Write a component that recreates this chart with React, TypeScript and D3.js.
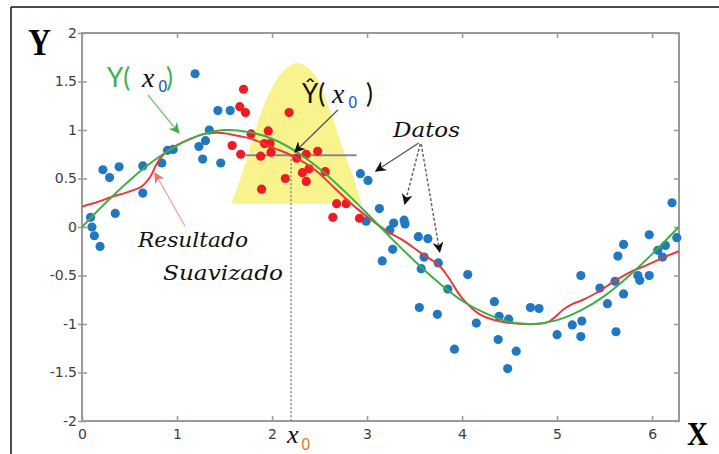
import React, { useEffect, useRef } from "react";
import * as d3 from "d3";

// Datos (puntos azules)
const datosX = [
  1.19, 1.43, 1.56, 1.34, 1.3, 1.23, 1.27, 1.46, 0.96, 0.9, 0.84, 0.64, 0.64, 0.39, 0.22, 0.29, 0.35, 0.09, 0.105, 0.13, 0.19,
  2.93, 3.01, 3.13, 2.99,
  3.28, 3.39, 3.4, 3.24, 3.27, 3.16, 3.54, 3.64, 3.6, 3.57, 3.75, 3.85, 4.06, 3.55, 3.74, 3.92, 4.15, 4.34, 4.39, 4.49, 4.38, 4.57, 4.48,
  4.72, 4.81, 5.0, 5.16, 5.25, 5.26, 5.25, 5.45, 5.53, 5.61, 5.64, 5.7, 5.7, 5.62, 5.85, 5.87, 5.97, 5.97, 6.06, 6.14, 6.11, 6.26, 6.21,
];
const datosY = [
  1.58, 1.2, 1.2, 1.0, 0.89, 0.83, 0.7, 0.66, 0.8, 0.79, 0.66, 0.63, 0.35, 0.62, 0.59, 0.51, 0.14, 0.1, 0.0, -0.09, -0.2,
  0.55, 0.48, 0.19, 0.06,
  0.04, 0.07, 0.03, -0.03, -0.23, -0.35, -0.1, -0.12, -0.31, -0.43, -0.37, -0.64, -0.49, -0.83, -0.9, -1.26, -0.99, -0.77, -0.92, -0.95, -1.16, -1.28, -1.46,
  -0.83, -0.84, -1.11, -1.01, -0.5, -0.97, -1.13, -0.63, -0.79, -0.56, -0.3, -0.18, -0.69, -1.08, -0.5, -0.55, -0.08, -0.5, -0.24, -0.19, -0.31, -0.11, 0.25,
];

// puntos dentro de la ventana (rojos)
const ventanaX = [
  1.7, 1.66, 1.72, 2.18, 1.58, 1.67, 1.78, 1.96, 1.92, 1.98, 1.99, 1.88, 2.26, 2.36, 2.48, 2.39, 2.32, 2.36, 2.56, 2.14, 1.89, 2.68, 2.78, 2.64, 2.92,
];
const ventanaY = [
  1.42, 1.24, 1.18, 1.18, 0.84, 0.75, 0.96, 0.99, 0.86, 0.86, 0.77, 0.73, 0.71, 0.75, 0.78, 0.6, 0.56, 0.47, 0.57, 0.5, 0.39, 0.24, 0.24, 0.1, 0.09,
];

// curva verdadera Y(x)
const verdaderaX = [0, 0.25, 0.5, 0.75, 1.0, 1.25, 1.5, 1.75, 2.0, 2.25, 2.5, 2.75, 3.0, 3.25, 3.5, 3.75, 4.0, 4.25, 4.5, 4.75, 5.0, 5.25, 5.5, 5.75, 6.0, 6.28];
const verdaderaY = [0, 0.25, 0.48, 0.68, 0.84, 0.95, 1.0, 0.98, 0.91, 0.78, 0.6, 0.38, 0.14, -0.11, -0.35, -0.57, -0.76, -0.89, -0.98, -1.0, -0.96, -0.86, -0.71, -0.51, -0.28, 0.0];

// resultado suavizado
const suaveX = [0, 0.17, 0.31, 0.48, 0.63, 0.72, 0.78, 0.85, 0.94, 1.12, 1.29, 1.47, 1.64, 1.78, 2.03, 2.2, 2.45, 2.66, 2.87, 3.05, 3.22, 3.4, 3.57, 3.75, 3.85, 3.99, 4.17, 4.34, 4.52, 4.69, 4.9, 5.08, 5.17, 5.25, 5.43, 5.6, 5.78, 5.95, 6.13, 6.28];
const suaveY = [0.21, 0.26, 0.31, 0.36, 0.42, 0.52, 0.64, 0.74, 0.81, 0.9, 0.96, 0.97, 0.94, 0.91, 0.81, 0.74, 0.59, 0.4, 0.21, 0.07, -0.05, -0.15, -0.27, -0.39, -0.51, -0.72, -0.89, -0.96, -0.99, -1.0, -0.98, -0.84, -0.79, -0.76, -0.67, -0.56, -0.46, -0.39, -0.31, -0.25];

// forma del kernel (amarillo)
const kernelX = [1.574, 1.714, 1.854, 1.995, 2.135, 2.27, 2.45, 2.59, 2.73, 2.87, 2.94];
const kernelY = [0.24, 0.64, 1.09, 1.43, 1.62, 1.69, 1.57, 1.26, 0.85, 0.47, 0.24];
const kernelBase = 0.24;

const x0 = 2.2;
const yHat = 0.74;

const yTicks = [-2, -1.5, -1, -0.5, 0, 0.5, 1, 1.5, 2];
const xTicks = [0, 1, 2, 3, 4, 5, 6];

const App = () => {
  const svgRef = useRef(null);

  useEffect(() => {
    const svg = d3.select(svgRef.current);
    svg.selectAll("*").remove();

    const x = d3.scaleLinear().domain([0, 2 * Math.PI]).range([82, 679]);
    const y = d3.scaleLinear().domain([-2, 2]).range([421, 33]);

    const defs = svg.append("defs");
    const marker = (id, color) =>
      defs
        .append("marker")
        .attr("id", id)
        .attr("viewBox", "0 0 10 10")
        .attr("refX", 9)
        .attr("refY", 5)
        .attr("markerUnits", "userSpaceOnUse")
        .attr("markerWidth", 11)
        .attr("markerHeight", 11)
        .attr("orient", "auto")
        .append("path")
        .attr("d", "M0,0 L10,5 L0,10 L3,5 z")
        .attr("fill", color);
    marker("flechaVerde", "#3fae49");
    marker("flechaNegra", "#111");
    marker("flechaRoja", "#f07070");

    // borde exterior
    svg.append("line").attr("x1", 11).attr("x2", 719).attr("y1", 7).attr("y2", 7).attr("stroke", "#111").attr("stroke-width", 1.5);
    svg.append("line").attr("x1", 11).attr("x2", 11).attr("y1", 7).attr("y2", 454).attr("stroke", "#111").attr("stroke-width", 1.5);

    // kernel
    const area = d3
      .area()
      .x((d) => x(d[0]))
      .y0(y(kernelBase))
      .y1((d) => y(d[1]))
      .curve(d3.curveCatmullRom);
    svg
      .append("path")
      .datum(kernelX.map((k, i) => [k, kernelY[i]]))
      .attr("fill", "#f8f38c")
      .attr("d", area);

    // marco
    svg
      .append("rect")
      .attr("x", x(0))
      .attr("y", y(2))
      .attr("width", x(2 * Math.PI) - x(0))
      .attr("height", y(-2) - y(2))
      .attr("fill", "none")
      .attr("stroke", "#9a9a9a")
      .attr("stroke-width", 2);

    const styleAxis = (g) => {
      g.select(".domain").remove();
      g.selectAll("line").attr("stroke", "#9a9a9a").attr("stroke-width", 1.5);
      g.selectAll("text").attr("font-family", "'DejaVu Sans', sans-serif").attr("font-size", 14).attr("fill", "#3c3c3c");
    };

    svg
      .append("g")
      .attr("transform", `translate(${x(0)},0)`)
      .call(d3.axisLeft(y).tickValues(yTicks).tickSizeInner(4).tickSizeOuter(0).tickPadding(1).tickFormat((d) => String(d)))
      .call(styleAxis);
    svg
      .append("g")
      .attr("transform", `translate(${x(0)},0)`)
      .call(d3.axisRight(y).tickValues(yTicks).tickSize(5).tickFormat(() => ""))
      .call(styleAxis);
    svg
      .append("g")
      .attr("transform", `translate(${x(2 * Math.PI)},0)`)
      .call(d3.axisLeft(y).tickValues(yTicks).tickSize(5).tickFormat(() => ""))
      .call(styleAxis);
    svg
      .append("g")
      .attr("transform", `translate(0,${y(2)})`)
      .call(d3.axisBottom(x).tickValues(xTicks).tickSize(5).tickFormat(() => ""))
      .call(styleAxis);
    svg
      .append("g")
      .attr("transform", `translate(0,${y(-2)})`)
      .call(d3.axisBottom(x).tickValues(xTicks).tickSizeInner(-5).tickSizeOuter(0).tickPadding(8).tickFormat((d) => String(d)))
      .call(styleAxis);

    // guias de x0
    svg
      .append("line")
      .attr("x1", x(x0))
      .attr("x2", x(x0))
      .attr("y1", y(yHat))
      .attr("y2", y(-2))
      .attr("stroke", "#777")
      .attr("stroke-width", 1.3)
      .attr("stroke-dasharray", "2,2");
    svg
      .append("line")
      .attr("x1", x(1.72))
      .attr("x2", x(2.89))
      .attr("y1", y(yHat))
      .attr("y2", y(yHat))
      .attr("stroke", "#888")
      .attr("stroke-width", 2);

    // puntos
    svg
      .append("g")
      .selectAll("circle")
      .data(datosX.map((d, i) => [d, datosY[i]]))
      .join("circle")
      .attr("cx", (d) => x(d[0]))
      .attr("cy", (d) => y(d[1]))
      .attr("r", 4.6)
      .attr("fill", "#1f78c1");
    svg
      .append("g")
      .selectAll("circle")
      .data(ventanaX.map((d, i) => [d, ventanaY[i]]))
      .join("circle")
      .attr("cx", (d) => x(d[0]))
      .attr("cy", (d) => y(d[1]))
      .attr("r", 4.6)
      .attr("fill", "#ec1c24");

    // curvas
    const line = d3
      .line()
      .x((d) => x(d[0]))
      .y((d) => y(d[1]))
      .curve(d3.curveCatmullRom);
    svg
      .append("path")
      .datum(suaveX.map((d, i) => [d, suaveY[i]]))
      .attr("fill", "none")
      .attr("stroke", "#e8393e")
      .attr("stroke-width", 2)
      .attr("d", line);
    svg
      .append("path")
      .datum(verdaderaX.map((d, i) => [d, verdaderaY[i]]))
      .attr("fill", "none")
      .attr("stroke", "#3fae49")
      .attr("stroke-width", 2)
      .attr("d", line);

    // flechas
    const flecha = (a, b, color, id, dash, w) =>
      svg
        .append("line")
        .attr("x1", x(a[0]))
        .attr("y1", y(a[1]))
        .attr("x2", x(b[0]))
        .attr("y2", y(b[1]))
        .attr("stroke", color)
        .attr("stroke-width", w)
        .attr("stroke-dasharray", dash)
        .attr("marker-end", `url(#${id})`);
    flecha([0.694, 1.361], [1.02, 0.969], "#7cc47f", "flechaVerde", null, 1.3);
    flecha([2.692, 1.206], [2.24, 0.773], "#555", "flechaNegra", null, 1.3);
    flecha([3.544, 0.866], [3.092, 0.577], "#555", "flechaNegra", null, 1.3);
    flecha([3.56, 0.856], [3.397, 0.237], "#666", "flechaNegra", "3,2", 1.5);
    flecha([3.57, 0.856], [3.765, -0.258], "#666", "flechaNegra", "3,2", 1.5);
    flecha([1.083, 0.01], [0.768, 0.557], "#f49a9a", "flechaRoja", null, 1.2);

    // textos
    const serif = "'DejaVu Serif', serif";
    const mate = "'Liberation Serif', serif";
    const sans = "Lato, 'Open Sans', sans-serif";

    svg.append("text").attr("x", 28).attr("y", 55).attr("font-family", mate).attr("font-weight", "bold")
      .attr("font-size", 38).attr("textLength", 23).attr("lengthAdjust", "spacingAndGlyphs").attr("fill", "#000").text("Y");
    svg.append("text").attr("x", 687).attr("y", 445).attr("font-family", mate).attr("font-weight", "bold")
      .attr("font-size", 33).attr("textLength", 21).attr("lengthAdjust", "spacingAndGlyphs").attr("fill", "#000").text("X");

    const t1 = svg.append("text").attr("x", 107).attr("y", 87).attr("font-family", sans).attr("font-size", 26).attr("fill", "#3fae49");
    t1.append("tspan").text("Y(");
    t1.append("tspan").attr("x", 142).attr("font-family", mate).attr("font-style", "italic").attr("font-size", 28).attr("fill", "#111").text("x");
    t1.append("tspan").attr("x", 158).attr("dy", 5).attr("font-family", "'DejaVu Sans', sans-serif").attr("font-size", 15).attr("fill", "#1f5fbf").text("0");
    t1.append("tspan").attr("x", 166).attr("dy", -5).text(")");

    const t2 = svg.append("text").attr("x", 302).attr("y", 103).attr("font-family", sans).attr("font-size", 26).attr("fill", "#111");
    t2.append("tspan").text("Ŷ(");
    t2.append("tspan").attr("x", 332).attr("font-family", mate).attr("font-style", "italic").attr("font-size", 28).text("x");
    t2.append("tspan").attr("x", 348).attr("dy", 5).attr("font-family", "'DejaVu Sans', sans-serif").attr("font-size", 15).attr("fill", "#1f5fbf").text("0");
    t2.append("tspan").attr("x", 366).attr("dy", -5).text(")");

    const t3 = svg.append("text").attr("x", 287).attr("y", 443).attr("font-family", mate).attr("font-style", "italic").attr("font-size", 26).attr("fill", "#111");
    t3.append("tspan").text("x");
    t3.append("tspan").attr("x", 301).attr("dy", 7).attr("font-style", "normal").attr("font-family", "'DejaVu Sans', sans-serif").attr("font-size", 15).attr("fill", "#d9822b").text("0");

    const italica = (tx, ty, len, s) =>
      svg.append("text").attr("x", tx).attr("y", ty).attr("font-family", serif).attr("font-style", "italic")
        .attr("font-size", 21).attr("textLength", len).attr("lengthAdjust", "spacingAndGlyphs").attr("fill", "#111").text(s);
    italica(393, 137, 67, "Datos");
    italica(138, 247, 110, "Resultado");
    italica(163, 280, 120, "Suavizado");
  }, []);

  return (
    <svg
      ref={svgRef}
      width={719}
      height={454}
      style={{ position: "absolute", left: 0, top: 0, background: "#fff" }}
    ></svg>
  );
};

export default App;
